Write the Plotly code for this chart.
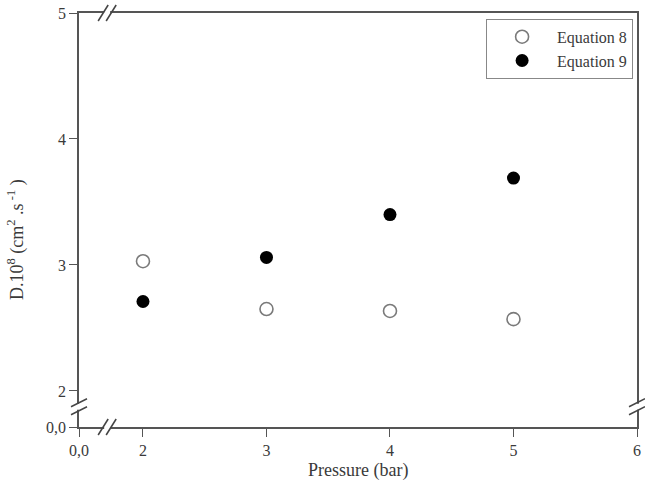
import plotly.graph_objects as go

pressure = [2, 3, 4, 5]
eq8 = [3.03, 2.65, 2.635, 2.57]
eq9 = [2.71, 3.06, 3.40, 3.69]

x_ticks = [1.482, 2, 3, 4, 5, 6]
x_ticklabels = ["0,0", "2", "3", "4", "5", "6"]
y_ticks = [1.714, 2, 3, 4, 5]
y_ticklabels = ["0,0", "2", "3", "4", "5"]
x_break = 1.71
y_break = 1.875

FONT = "Liberation Serif"
AX = "#555555"
TXT = "#3a3a3a"

fig = go.Figure()
fig.add_trace(go.Scatter(x=pressure, y=eq8, mode="markers", name="Equation 8",
                         marker=dict(symbol="circle-open", size=13, color="#7a7a7a",
                                     line=dict(width=1.6, color="#7a7a7a"))))
fig.add_trace(go.Scatter(x=pressure, y=eq9, mode="markers", name="Equation 9",
                         marker=dict(symbol="circle", size=13, color="black")))

axis_common = dict(showgrid=False, zeroline=False, showline=True, linecolor=AX, linewidth=1.5,
                   mirror=True, ticks="outside", ticklen=8, tickwidth=1.2, tickcolor=AX,
                   automargin=False,
                   tickfont=dict(family=FONT, size=16, color=TXT))

fig.update_xaxes(range=[1.482, 6], tickvals=x_ticks, ticktext=x_ticklabels, **axis_common)
fig.update_yaxes(range=[1.714, 5], tickvals=y_ticks, ticktext=y_ticklabels, **axis_common)

shapes = []
# x-axis breaks (bottom and top)
for yv in [0, 1]:
    shapes.append(dict(type="rect", xref="x", yref="paper", xsizemode="pixel", ysizemode="pixel",
                       xanchor=x_break, yanchor=yv, x0=-3, x1=3, y0=-2, y1=2,
                       fillcolor="white", line=dict(width=0), layer="above"))
    for off in [-4, 4]:
        shapes.append(dict(type="line", xref="x", yref="paper", xsizemode="pixel", ysizemode="pixel",
                           xanchor=x_break, yanchor=yv, x0=off - 5, x1=off + 5, y0=-8, y1=8,
                           line=dict(color="#444444", width=1.5), layer="above"))
# y-axis breaks (left and right)
for xv in [0, 1]:
    shapes.append(dict(type="rect", xref="paper", yref="y", xsizemode="pixel", ysizemode="pixel",
                       xanchor=xv, yanchor=y_break, x0=-2, x1=2, y0=-3, y1=3,
                       fillcolor="white", line=dict(width=0), layer="above"))
    for off in [-4, 4]:
        shapes.append(dict(type="line", xref="paper", yref="y", xsizemode="pixel", ysizemode="pixel",
                           xanchor=xv, yanchor=y_break, x0=-8, x1=8, y0=off - 4, y1=off + 4,
                           line=dict(color="#444444", width=1.5), layer="above"))

fig.update_layout(
    width=645, height=484,
    margin=dict(l=79, r=8, t=13, b=57, autoexpand=False),
    paper_bgcolor="white", plot_bgcolor="white",
    font=dict(family=FONT, size=16, color=TXT),
    shapes=shapes,
    annotations=[
        dict(text="D.10<sup>8</sup> (cm<sup>2</sup> .s<sup> -1</sup> )",
             xref="paper", yref="paper", x=0, y=(427 - 240) / 414,
             xanchor="center", yanchor="middle", xshift=-63, textangle=-90,
             showarrow=False, font=dict(family=FONT, size=18, color=TXT)),
        dict(text="Pressure (bar)", xref="paper", yref="paper", x=0.5, y=0,
             xanchor="center", yanchor="bottom", yshift=-56,
             showarrow=False, font=dict(family=FONT, size=18, color=TXT)),
    ],
    showlegend=True,
    legend=dict(x=0.993, y=0.986, xanchor="right", yanchor="top",
                bordercolor="#888888", borderwidth=1, bgcolor="white",
                font=dict(family=FONT, size=16, color=TXT),
                itemwidth=60, tracegroupgap=0),
)

fig.write_html("out.html")
